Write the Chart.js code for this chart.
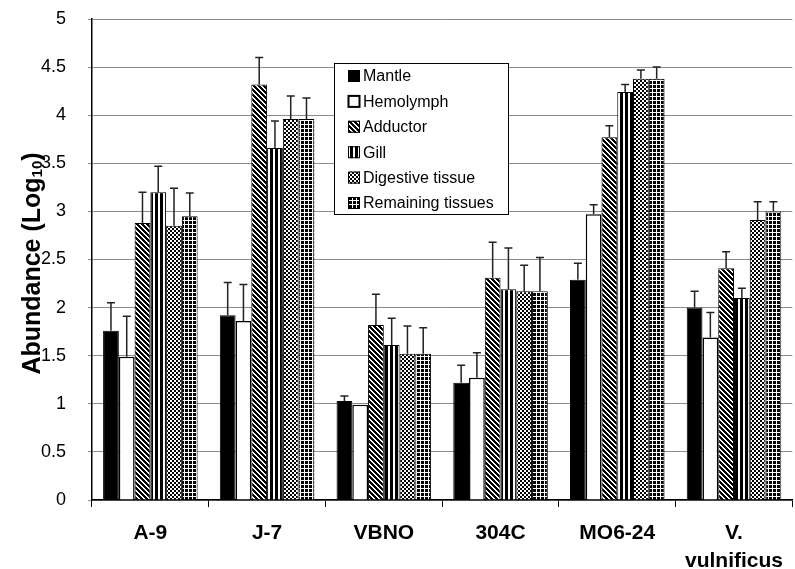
<!DOCTYPE html>
<html>
<head>
<meta charset="utf-8">
<script src="https://cdn.jsdelivr.net/npm/chart.js@4.4.1/dist/chart.umd.min.js"></script>
<style>
  html, body { margin: 0; padding: 0; background: #fff; }
  #wrap { width: 795px; height: 569px; }
</style>
</head>
<body>
<div id="wrap"><canvas id="chart" width="795" height="569"></canvas></div>
<script>
  // Categories (strains) and tissue series
  const categories = ['A-9', 'J-7', 'VBNO', '304C', 'MO6-24', ['V.', 'vulnificus']];
  const tissues = ['Mantle', 'Hemolymph', 'Adductor', 'Gill', 'Digestive tissue', 'Remaining tissues'];

  const mantle       = [1.76, 1.92, 1.03, 1.22, 2.29, 2.00];
  const mantleErr    = [0.29, 0.34, 0.05, 0.18, 0.17, 0.17];
  const hemolymph    = [1.49, 1.86, 0.99, 1.27, 2.97, 1.69];
  const hemolymphErr = [0.42, 0.38, 0.00, 0.26, 0.10, 0.26];
  const adductor     = [2.88, 4.32, 1.82, 2.31, 3.77, 2.41];
  const adductorErr  = [0.32, 0.28, 0.32, 0.37, 0.12, 0.17];
  const gill         = [3.20, 3.66, 1.61, 2.19, 4.24, 2.10];
  const gillErr      = [0.27, 0.28, 0.28, 0.43, 0.08, 0.10];
  const digestive    = [2.85, 3.96, 1.52, 2.17, 4.38, 2.91];
  const digestiveErr = [0.39, 0.24, 0.29, 0.27, 0.09, 0.19];
  const remaining    = [2.95, 3.96, 1.52, 2.17, 4.38, 3.00];
  const remainingErr = [0.24, 0.22, 0.27, 0.35, 0.12, 0.10];

  const yTicks = [0, 0.5, 1, 1.5, 2, 2.5, 3, 3.5, 4, 4.5, 5];

  // Helper: build a small black/white tile and turn it into a canvas pattern
  function makePattern(size, drawTile) {
    const c = document.createElement('canvas');
    c.width = size; c.height = size;
    const t = c.getContext('2d');
    drawTile(t, size);
    return document.getElementById('chart').getContext('2d').createPattern(c, 'repeat');
  }

  // Adductor: dark with white "\" diagonals
  const diagPattern = makePattern(5, function(t, s) {
    t.fillStyle = '#000'; t.fillRect(0, 0, s, s);
    t.fillStyle = '#fff';
    for (let i = 0; i < s; i++) { t.fillRect(i, i, 2, 1); if (i + 2 > s) t.fillRect(0, i, 1, 1); }
  });
  // Gill: black with white vertical lines
  const vertPattern = makePattern(5, function(t, s) {
    t.fillStyle = '#000'; t.fillRect(0, 0, s, s);
    t.fillStyle = '#fff'; t.fillRect(3, 0, 2, s);
  });
  // Digestive tissue: fine checkerboard
  const checkPattern = makePattern(4, function(t, s) {
    t.fillStyle = '#fff'; t.fillRect(0, 0, s, s);
    t.fillStyle = '#000'; t.fillRect(0, 0, 2, 2); t.fillRect(2, 2, 2, 2);
  });
  // Remaining tissues: black squares on white grid
  const gridPattern = makePattern(4, function(t, s) {
    t.fillStyle = '#000'; t.fillRect(0, 0, s, s);
    t.fillStyle = '#fff'; t.fillRect(0, 0, s, 1); t.fillRect(0, 0, 1, s);
  });

  const seriesValues = [mantle, hemolymph, adductor, gill, digestive, remaining];
  const seriesErrors = [mantleErr, hemolymphErr, adductorErr, gillErr, digestiveErr, remainingErr];
  const seriesFills = ['#000', '#fff', diagPattern, vertPattern, checkPattern, gridPattern];

  const datasets = tissues.map(function(name, i) {
    return {
      label: name,
      data: seriesValues[i],
      errors: seriesErrors[i],
      backgroundColor: seriesFills[i],
      borderColor: '#000',
      borderWidth: i === 1 ? 1.5 : 1,
      barPercentage: 1.0,
      categoryPercentage: 0.81
    };
  });

  // Draw the upward error bars with a small cap
  const errorBarPlugin = {
    id: 'errorBars',
    afterDatasetsDraw(chart) {
      const ctx = chart.ctx;
      const y = chart.scales.y;
      ctx.save();
      ctx.strokeStyle = '#222';
      ctx.lineWidth = 1.5;
      chart.data.datasets.forEach(function(ds, di) {
        const meta = chart.getDatasetMeta(di);
        meta.data.forEach(function(bar, i) {
          const err = ds.errors[i];
          if (!err) return;
          const yTop = y.getPixelForValue(ds.data[i] + err);
          ctx.beginPath();
          ctx.moveTo(bar.x, bar.y);
          ctx.lineTo(bar.x, yTop);
          ctx.moveTo(bar.x - 4, yTop);
          ctx.lineTo(bar.x + 4, yTop);
          ctx.stroke();
        });
      });
      ctx.restore();
    }
  };

  // Boxed legend inside the plot, on top of the grid
  const boxLegendPlugin = {
    id: 'boxLegend',
    afterDraw(chart) {
      const ctx = chart.ctx;
      const left = 334, top = 63, width = 174, height = 151;
      ctx.save();
      ctx.fillStyle = '#fff';
      ctx.fillRect(left, top, width, height);
      ctx.strokeStyle = '#000';
      ctx.lineWidth = 1;
      ctx.strokeRect(left + 0.5, top + 0.5, width, height);
      ctx.font = '16px "Liberation Sans", Arial, sans-serif';
      ctx.textBaseline = 'middle';
      chart.data.datasets.forEach(function(ds, i) {
        const cy = 76 + i * 25.4;
        ctx.fillStyle = ds.backgroundColor;
        ctx.fillRect(348, cy - 6, 12, 12);
        ctx.strokeStyle = '#000';
        ctx.lineWidth = i === 1 ? 2 : 1;
        ctx.strokeRect(348.5, cy - 5.5, 11, 11);
        ctx.fillStyle = '#000';
        ctx.fillText(ds.label, 363, cy + 1);
      });
      ctx.restore();
    }
  };

  // Y axis title with a real subscript
  const yTitlePlugin = {
    id: 'yTitle',
    afterDraw(chart) {
      const ctx = chart.ctx;
      const area = chart.chartArea;
      const main = 'Abundance (Log';
      const sub = '10';
      const tail = ')';
      ctx.save();
      ctx.fillStyle = '#000';
      ctx.textBaseline = 'alphabetic';
      const bigFont = 'bold 25px "Liberation Sans", Arial, sans-serif';
      const smallFont = 'bold 15px "Liberation Sans", Arial, sans-serif';
      ctx.font = bigFont;
      const w1 = ctx.measureText(main).width;
      const w3 = ctx.measureText(tail).width;
      ctx.font = smallFont;
      const w2 = ctx.measureText(sub).width;
      const total = w1 + w2 + w3;
      ctx.translate(40, (area.top + area.bottom) / 2 + 4);
      ctx.rotate(-Math.PI / 2);
      let x = -total / 2;
      ctx.font = bigFont;
      ctx.fillText(main, x, 0);
      x += w1;
      ctx.font = smallFont;
      ctx.fillText(sub, x, 2);
      x += w2;
      ctx.font = bigFont;
      ctx.fillText(tail, x, 0);
      ctx.restore();
    }
  };

  new Chart(document.getElementById('chart'), {
    type: 'bar',
    data: { labels: categories, datasets: datasets },
    options: {
      responsive: false,
      animation: false,
      layout: { padding: { top: 19, right: 0, left: 0, bottom: 0 } },
      plugins: {
        legend: { display: false },
        tooltip: { enabled: false }
      },
      scales: {
        x: {
          offset: true,
          border: { color: '#000', width: 1.5 },
          grid: {
            display: true,
            offset: true,
            drawOnChartArea: false,
            drawTicks: true,
            tickLength: 7,
            color: '#000'
          },
          ticks: {
            color: '#000',
            padding: 12,
            maxRotation: 0,
            font: { family: '"Liberation Sans", Arial, sans-serif', size: 21, weight: 'bold', lineHeight: 1.33 }
          },
          afterFit(scale) { scale.height = 69; }
        },
        y: {
          min: 0,
          max: 5,
          border: { color: '#000', width: 1.5 },
          grid: { color: '#8c8c8c', lineWidth: 1, drawTicks: true, tickLength: 4 },
          afterBuildTicks(scale) { scale.ticks = yTicks.map(function(v) { return { value: v }; }); },
          ticks: {
            color: '#000',
            padding: 22,
            font: { family: '"Liberation Sans", Arial, sans-serif', size: 18 },
            callback: function(value) { return String(value); }
          },
          afterFit(scale) {
            scale.width = 92;
            scale.paddingTop = 0;
            scale.paddingBottom = 0;
          }
        }
      }
    },
    plugins: [errorBarPlugin, boxLegendPlugin, yTitlePlugin]
  });
</script>
</body>
</html>
